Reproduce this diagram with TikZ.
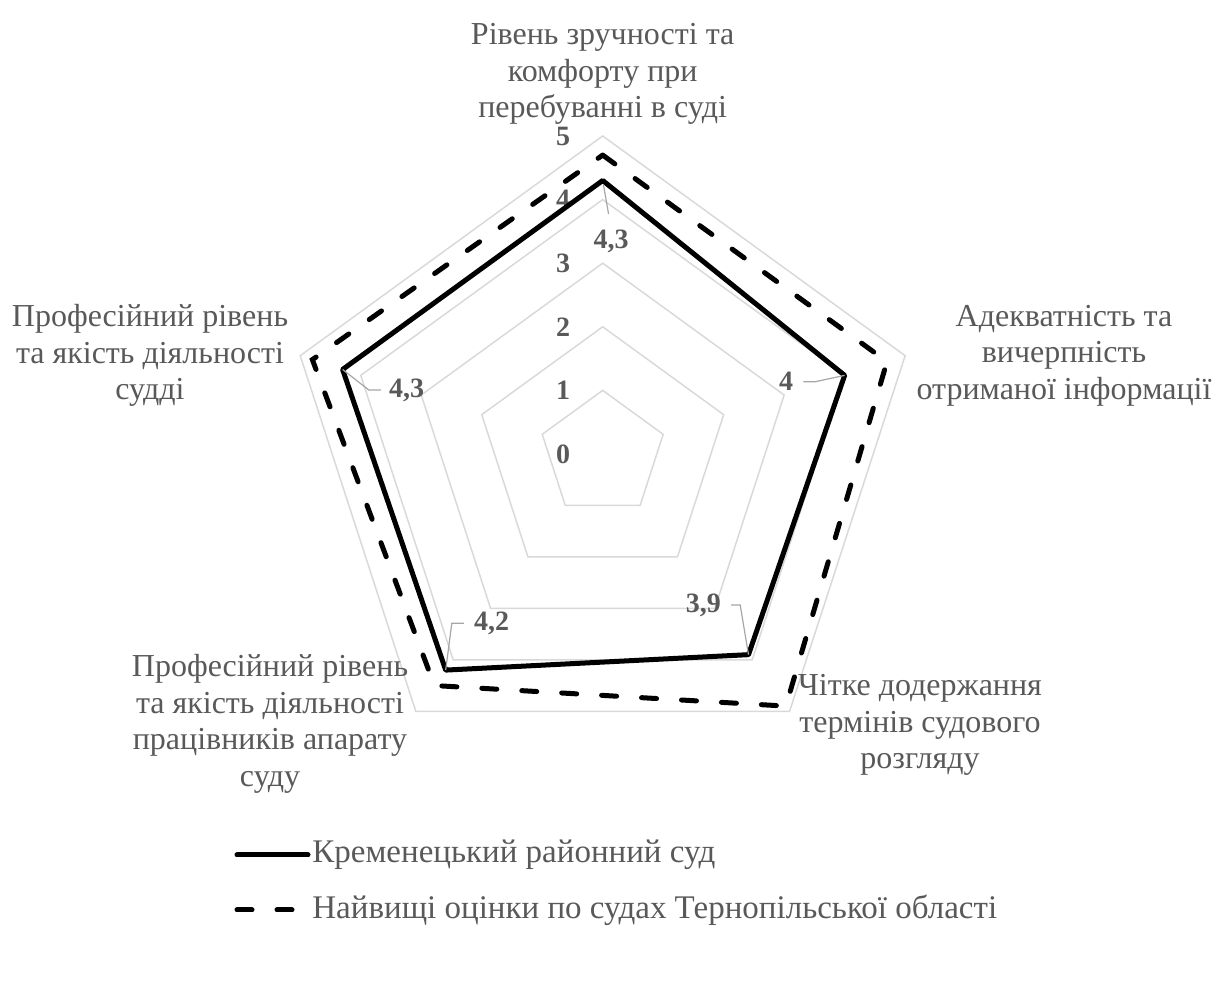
\documentclass[tikz,border=0pt]{standalone}
\usepackage{fontspec}
\setmainfont{Liberation Serif}[BoldFont={Liberation Serif Bold}]
\usetikzlibrary{positioning}
\definecolor{txtgray}{HTML}{595959}
\definecolor{gridgray}{HTML}{D9D9D9}
\definecolor{leadgray}{HTML}{A6A6A6}
\def\radunit{63.6}
\tikzset{
  axlab/.style={text=txtgray, align=center, inner sep=0pt, font=\rmfamily\fontsize{16}{18.25}\selectfont},
  scalelab/.style={text=txtgray, inner sep=0pt, font=\rmfamily\bfseries\fontsize{14}{15}\selectfont},
  vallab/.style={text=txtgray, inner sep=1pt, font=\rmfamily\bfseries\fontsize{14}{15}\selectfont},
  ring/.style={draw=gridgray, line width=0.75pt},
  leader/.style={draw=leadgray, line width=0.6pt},
  court/.style={line width=2.5pt, line join=round, line cap=round},
  best/.style={line width=2.5pt, line cap=round, dash pattern=on 7.5pt off 12.5pt},
  legtext/.style={text=txtgray, inner sep=0pt, font=\rmfamily\fontsize{16.5}{18}\selectfont}
}
\begin{document}
\begin{tikzpicture}[x=0.5pt,y=0.5pt]
\useasboundingbox (0,0) rectangle (1216,1001);

\begin{scope}[shift={(602.7,547)}]
    \foreach \r in {1,...,5}
        \draw[ring] (90:\r*\radunit) -- (18:\r*\radunit) -- (-54:\r*\radunit)
                    -- (-126:\r*\radunit) -- (162:\r*\radunit) -- cycle;
    \foreach \r in {0,...,5}
        \node[scalelab] (s\r) at (-39.7,\r*\radunit) {\r};

    \foreach \a/\v/\n in {90/4.3/1, 18/4/2, -54/3.9/3, -126/4.2/4, 162/4.3/5}
        \coordinate (k\n) at (\a:\v*\radunit);
    \foreach \a/\v/\n in {90/4.7/1, 18/4.7/2, -54/4.9/3, -126/4.5/4, 162/4.8/5}
        \coordinate (b\n) at (\a:\v*\radunit);

    \draw[best]  (b1) -- (b2) -- (b3) -- (b4) -- (b5) -- cycle;
    \draw[court] (k1) -- (k2) -- (k3) -- (k4) -- (k5) -- cycle;

    \node[vallab] (v1) at (8.3,212.3)    {4,3};
    \node[vallab] (v2) at (183.3,72.3)   {4};
    \node[vallab] (v3) at (100.6,-151)   {3,9};
    \node[vallab] (v4) at (-111,-169.3)  {4,2};
    \node[vallab] (v5) at (-196,64)      {4,3};

    \draw[leader, shorten <=2pt, shorten >=7pt] (k1) -- (v1.north);
    \draw[leader] ([xshift=4pt]v2.east) -- ++(12,0) -- (k2);
    \draw[leader] ([xshift=4pt]v3.east) -- ++(9,0) -- (k3);
    \draw[leader] ([xshift=-4pt]v4.west) -- ++(-12,0) -- (k4);
    \draw[leader] ([xshift=-3pt]v5.west) -- ++(-12,0) -- (k5);

    \node[axlab] (a1) at (0,380)         {Рівень зручності та\\комфорту при\\перебуванні в суді};
    \node[axlab] (a2) at (461.3,98.3)    {Адекватність та\\вичерпність\\отриманої інформації};
    \node[axlab] (a3) at (317.3,-271)    {Чітке додержання\\термінів судового\\розгляду};
    \node[axlab] (a4) at (-332.7,-270)   {Професійний рівень\\та якість діяльності\\працівників апарату\\суду};
    \node[axlab] (a5) at (-452.7,98.3)   {Професійний рівень\\та якість діяльності\\судді};
\end{scope}

\coordinate (l1a) at (237,146);
\coordinate (l1b) at (308,146);
\coordinate (l2a) at (237,91);
\coordinate (l2b) at (308,91);
\draw[court] (l1a) -- (l1b);
\draw[best]  (l2a) -- (l2b);
\node[legtext, right=2pt of l1b] (t1) {Кременецький районний суд};
\node[legtext, right=2pt of l2b] (t2) {Найвищі оцінки по судах Тернопільської області};

\end{tikzpicture}
\end{document}
